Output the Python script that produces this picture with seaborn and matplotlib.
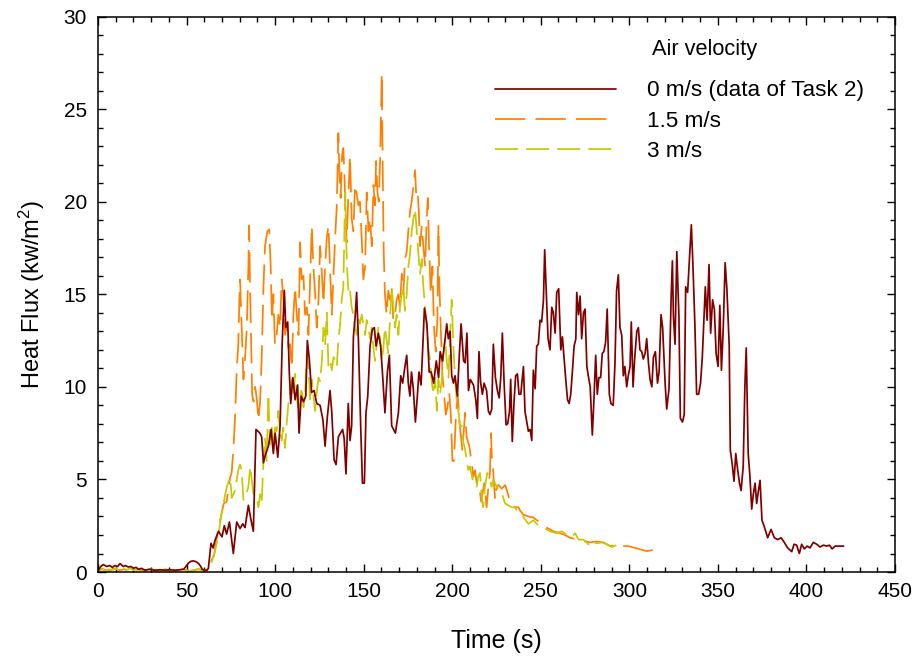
import matplotlib
matplotlib.use("Agg")
import matplotlib.pyplot as plt
import numpy as np
import pandas as pd
import seaborn as sns
from matplotlib.ticker import MultipleLocator

# ---------------- data ----------------
t_0 = [0, 1.5, 3, 4.9, 6.8, 8, 9.6, 11, 12.4, 14.3, 15.5, 17.1, 18.5, 20, 21.5, 22.8, 24.5, 26.5, 29, 32,
       35, 38, 41, 43.7, 46, 48.4, 50, 51.2, 52.5, 54, 55.5, 56.9, 58, 58.8, 60, 61.6, 62.3, 63.8, 65, 66,
       68, 70, 71.3, 72.6, 74.2, 76.4, 78.3, 80.2, 81.7, 83, 84.9, 86.4, 87.7, 89.2, 91.4, 92.4, 93.4, 94.7, 96.2, 97.7,
       99, 100, 101.5, 102.8, 104, 105.2, 106, 107.1, 108, 108.8, 110, 111.3, 112.7, 113.5, 114.7, 116, 117.3, 118.2, 119.3, 120.6,
       122, 123.5, 125.4, 127, 128.2, 129.5, 131, 132, 133.3, 134.4, 135.7, 138.1, 139, 140, 141.3, 142.3, 143.2, 144.2, 145.2, 146,
       147, 148.3, 149.3, 150.4, 151.3, 152.3, 153.6, 154.9, 156, 157, 158.3, 159.6, 160.7, 162, 163.4, 164.5, 165.8, 167.9, 169.6, 170.9,
       172, 173.3, 174.3, 175.2, 176.1, 177, 178, 179.2, 180.3, 181.2, 182.4, 183.3, 184.3, 185.7, 187, 188.1, 189.5, 191, 192.3, 193.2,
       194.5, 196, 196.9, 197.8, 198.8, 199.7, 200.7, 201.6, 202.9, 204.1, 205, 206.4, 207.3, 208.3, 209.2, 210.2, 212, 213.3, 214.2, 215.1,
       216, 217, 218, 219.4, 220.4, 221.3, 222.3, 223.2, 224.4, 225.5, 226.5, 227.4, 228.3, 229.3, 230.4, 231.3, 232.3, 233, 233.9, 234.9,
       235.8, 236.8, 237.7, 238.7, 239.6, 240.2, 241.1, 242.1, 243, 244, 244.9, 245.8, 246.8, 247.7, 248.6, 249.6, 250.5, 251.5, 252.2, 253.2,
       254.1, 255.2, 256.2, 257.1, 258.1, 259, 260.1, 261.3, 262.2, 263.2, 264.1, 265.1, 266, 266.9, 267.9, 268.8, 269.8, 270.3, 271.3, 272.2,
       273.1, 274.1, 275, 276, 277, 277.9, 279.1, 280, 281, 281.9, 282.8, 283.8, 284.7, 285.6, 286.6, 287.5, 288.7, 289.6, 290.9, 291.9,
       292.8, 293.8, 294.7, 295.7, 296.6, 297.5, 298.5, 299.4, 300.4, 301.1, 302.1, 303, 304.2, 305.1, 306, 307, 307.9, 308.9, 309.8, 310.8,
       311.7, 312.7, 313.6, 314.7, 315.9, 316.8, 317.9, 318.8, 320.2, 321.1, 322.4, 323.6, 324.3, 324.9, 325.8, 326.8, 328, 328.8, 330, 331,
       331.8, 332.9, 333.9, 335, 335.9, 337, 338, 339.1, 340.2, 341.2, 342.1, 342.9, 343.9, 345, 345.9, 347, 348, 349, 350.1, 351.1,
       352, 353, 354.1, 355.1, 356.4, 357, 358, 359.1, 360.1, 361.2, 362.2, 363.1, 364.3, 365.2, 366, 367.1, 368, 369.1, 370, 371,
       371.9, 372.9, 373.8, 374.9, 376.2, 378.1, 380, 381.9, 383.8, 385.7, 387.5, 389.4, 391.7, 393, 394.5, 396, 397.3, 398.8, 400.5, 402,
       403.9, 405.8, 407.7, 409.6, 411.5, 413, 414.5, 416.2, 418, 421]
q_0 = [0.05, 0.3, 0.4, 0.3, 0.35, 0.25, 0.35, 0.3, 0.45, 0.3, 0.35, 0.27, 0.3, 0.2, 0.25, 0.15, 0.2, 0.1, 0.15, 0.1,
       0.12, 0.1, 0.12, 0.1, 0.12, 0.15, 0.35, 0.5, 0.58, 0.6, 0.55, 0.45, 0.3, 0.15, 0.1, 0.1, 0.2, 1.55, 1.3, 1.7,
       2.2, 1.9, 2.5, 2.05, 2.7, 1.0, 2.7, 2.35, 2.6, 2.4, 3.6, 2.8, 2.2, 7.7, 7.5, 7.3, 5.9, 6.4, 6.8, 7.7,
       6.4, 7.5, 6.2, 7.9, 12.4, 15.2, 13.2, 13.5, 10.8, 9.1, 10.5, 9.3, 10.1, 7.5, 9.5, 9.2, 9.5, 12.5, 11.5, 9.7,
       9.8, 9.1, 9.0, 8.2, 6.8, 8.4, 9.8, 8.6, 6.05, 5.8, 7.3, 7.7, 7.2, 5.3, 9.1, 7.1, 7.9, 12.7, 13.8, 15.1,
       12.6, 7.9, 4.8, 4.8, 8.6, 9.5, 12.2, 13.1, 13.2, 12.2, 12.9, 12.2, 10.6, 8.6, 10.8, 11.7, 7.9, 7.5, 8.6, 10.6,
       10.2, 11.1, 11.7, 10.2, 9.5, 10.8, 9.9, 8.1, 9.5, 10.8, 10.1, 12.0, 14.25, 13.4, 10.8, 10.8, 10.2, 11.4, 10.5, 11.9,
       11.4, 12.6, 13.4, 12.6, 13.0, 10.6, 10.2, 10.6, 9.5, 11.9, 13.4, 11.4, 11.3, 12.9, 9.8, 10.4, 10.1, 9.3, 8.3, 11.9,
       10.25, 9.6, 10.2, 9.8, 8.7, 8.5, 8.8, 12.3, 10.5, 9.8, 9.4, 10.5, 12.9, 10.2, 7.95, 8.0, 8.65, 10.4, 7.05, 9.2,
       10.6, 10.7, 9.6, 9.6, 10.5, 11.1, 8.65, 8.1, 7.6, 7.7, 7.1, 10.9, 9.9, 12.2, 12.3, 13.6, 13.5, 14.7, 17.4, 14.9,
       12.6, 12.0, 14.3, 14.0, 12.9, 15.1, 15.3, 12.0, 12.7, 11.5, 10.4, 9.3, 9.1, 9.6, 10.9, 12.2, 12.6, 15.1, 13.9, 14.9,
       12.6, 14.0, 14.2, 11.1, 10.5, 10.0, 7.4, 9.3, 11.7, 9.6, 10.5, 10.5, 11.8, 11.9, 12.4, 14.2, 9.6, 9.1, 9.0, 11.3,
       15.2, 16.05, 13.2, 12.8, 10.6, 11.1, 10.0, 10.6, 11.1, 13.5, 10.0, 11.5, 13.0, 13.2, 12.0, 11.9, 11.5, 11.8, 12.6, 11.3,
       10.4, 10.0, 11.6, 11.9, 10.2, 10.8, 13.9, 13.2, 10.2, 8.8, 9.9, 14.8, 16.8, 13.8, 12.3, 17.3, 13.8, 8.3, 8.1, 8.5,
       15.4, 15.1, 16.8, 18.75, 16.6, 13.4, 9.6, 9.6, 10.2, 11.6, 13.6, 15.4, 13.6, 16.6, 12.9, 14.7, 14.2, 11.8, 11.1, 14.4,
       10.9, 13.1, 16.7, 15.25, 12.2, 6.6, 5.9, 4.9, 6.4, 5.5, 4.8, 4.4, 5.7, 9.9, 12.1, 6.4, 5.3, 3.4, 4.2, 4.8,
       3.7, 4.4, 4.95, 2.8, 2.45, 1.85, 2.3, 1.85, 1.75, 1.85, 1.6, 1.3, 1.1, 1.5, 1.45, 1.0, 1.5, 1.25, 1.4, 1.3,
       1.6, 1.5, 1.35, 1.45, 1.4, 1.45, 1.25, 1.4, 1.4, 1.4]

t_15 = [0, 3, 6, 9, 12, 15, 18, 21, 24, 27, 30, 33, 36, 39, 42, 45, 48, 51, 54, 57,
        60, 62, 64, 65.5, 67, 69, 71, 72.6, 74.6, 75.5, 76.4, 77.3, 78.3, 79.2, 79.8, 80.2, 81.1, 82.1, 83, 84,
        84.9, 85.3, 85.9, 86.5, 87, 87.8, 88.7, 89.6, 90.6, 91.5, 92.4, 93.4, 94.3, 95.6, 96.7, 97.5, 98.2, 99, 99.9, 100.9,
        101.8, 102.8, 103.7, 104.6, 105.6, 106.5, 107.5, 108.4, 109.4, 110.3, 111.3, 112.2, 113.2, 114.1, 115, 116, 116.9, 117.9, 118.8, 119.8,
        120.7, 121.6, 122.6, 123.5, 124.5, 125.4, 126.4, 127.3, 128.2, 129.2, 130.1, 131.1, 132, 133, 133.9, 134.8, 135.7, 136.3, 137, 137.8,
        138.5, 139.1, 139.8, 140.4, 141.3, 142.3, 143.2, 144.2, 145.1, 146.1, 147, 147.9, 148.9, 149.8, 150.8, 151.7, 152.7, 153.6, 154.6, 155.5,
        156.4, 157, 157.8, 158.5, 159.3, 159.8, 160.2, 160.5, 160.9, 161.3, 162, 162.9, 163.9, 164.8, 165.8, 166.7, 167.7, 168.6, 169.6, 170.5,
        171.5, 172.4, 173.3, 174.3, 175.2, 176.2, 177.1, 178.1, 179, 179.6, 180.3, 181.1, 181.8, 182.8, 183.7, 184.7, 185.6, 186.2, 186.9, 187.9,
        188.8, 189.7, 190.7, 191.6, 192.2, 192.8, 193.5, 194.5, 195.4, 196.4, 197.3, 198.3, 199.2, 200.1, 201, 202, 203.1, 204.3, 205.7, 207.3,
        208.1, 209.6, 211, 211.9, 212.9, 213.8, 215.3, 216.3, 217.2, 218.2, 219.4, 220.4, 221.3, 221.9, 222.4, 223.2, 224.2, 225.1, 226.1, 228,
        229.9, 231.2, 232.3, 233.7, 235.6, 237.4, 238.4, 240.2, 243, 245.8, 247.7, 250.6, 253.3, 257.1, 260.8, 263.6, 266.5, 270.2, 275, 277.9,
        281.6, 285.3, 289.1, 292.9, 296, 299.4, 304.2, 307, 309.8, 313, 316]
q_15 = [0.1, 0.15, 0.05, 0.2, 0.1, 0.15, 0.05, 0.15, 0.1, 0.1, 0.15, 0.05, 0.1, 0.15, 0.05, 0.1, 0.15, 0.05, 0.1, 0.15,
        0.1, 0.2, 0.6, 0.9, 1.8, 2.8, 3.7, 3.8, 5.1, 5.4, 6.6, 8.2, 10.9, 12.3, 14.7, 15.8, 13.2, 10.4, 11.5, 13.2,
        16.5, 18.7, 15.0, 12.3, 9.6, 9.2, 10.0, 9.4, 8.2, 9.2, 11.5, 15.4, 17.6, 18.4, 18.5, 16.5, 13.6, 15.0, 12.3, 12.8,
        13.9, 13.2, 15.8, 15.0, 12.8, 13.3, 12.1, 12.3, 11.0, 13.9, 15.4, 13.9, 12.8, 17.8, 15.8, 16.0, 13.9, 14.3, 12.8, 16.0,
        18.7, 16.5, 15.0, 13.2, 14.7, 17.6, 16.1, 14.5, 16.5, 18.1, 18.7, 16.1, 13.9, 16.1, 18.1, 19.75, 23.7, 21.6, 20.2, 22.5,
        22.9, 21.6, 19.3, 17.8, 20.2, 22.5, 19.1, 18.4, 20.9, 20.4, 19.8, 20.0, 18.0, 15.8, 16.5, 20.5, 18.4, 19.1, 17.6, 20.9,
        19.8, 22.2, 20.5, 20.0, 22.3, 25.0, 26.95, 24.1, 20.5, 17.3, 15.0, 13.9, 15.2, 14.7, 15.4, 13.6, 13.9, 14.7, 15.0, 14.3,
        16.1, 15.0, 16.9, 17.3, 18.4, 19.5, 20.0, 20.9, 21.7, 20.5, 20.7, 19.6, 17.6, 18.7, 17.6, 16.5, 19.1, 20.2, 17.6, 15.0,
        16.5, 13.2, 11.9, 13.6, 18.7, 15.4, 13.2, 10.6, 9.6, 8.5, 8.9, 9.7, 8.5, 6.0, 6.0, 8.3, 9.6, 7.9, 6.6, 8.6,
        7.3, 6.8, 5.9, 5.15, 5.5, 4.8, 4.6, 3.8, 4.3, 4.8, 3.5, 4.6, 5.35, 7.5, 6.1, 5.35, 3.9, 4.6, 4.7, 4.5,
        4.7, 4.3, 3.9, 3.6, 3.5, 3.5, 3.3, 3.1, 3.0, 2.95, 2.8, 2.6, 2.4, 2.2, 2.1, 2.0, 1.85, 1.77, 1.67, 1.6,
        1.65, 1.6, 1.4, 1.45, 1.4, 1.4, 1.27, 1.2, 1.13, 1.18, 1.13]

t_3 = [0, 2, 4, 6, 8, 10, 12, 14, 16, 18, 20, 23, 26, 29, 32, 35, 38, 41, 44, 47,
       50, 53, 56, 59, 62, 64, 66, 68, 69.5, 70.8, 72.7, 74.6, 75.5, 77.3, 79.2, 80.2, 81.1, 82.1, 83.6, 84.9,
       85.9, 86.8, 87.8, 89.6, 90.6, 91.5, 92.4, 93.4, 94.3, 95.2, 96.2, 97.1, 98.1, 99, 99.9, 100.9, 101.8, 102.8, 103.7, 104.6,
       105.6, 106.5, 107.5, 108.4, 109.4, 110.3, 111.3, 112.2, 113.2, 114.1, 115, 116, 116.9, 117.9, 118.8, 119.8, 120.7, 121.6, 122.6, 123.5,
       124.5, 125.4, 126.4, 127.3, 128.2, 129.2, 130.1, 131.1, 132, 133, 133.9, 134.8, 135.7, 136.7, 137.6, 138.5, 139.1, 139.6, 140.2, 140.8,
       141.5, 142.3, 143.2, 144.2, 145.1, 146.1, 147, 147.9, 148.9, 149.8, 150.8, 151.7, 152.7, 153.6, 154.6, 155.5, 156.4, 157.4, 158.3, 159.3,
       160.2, 161.1, 162, 163, 163.9, 164.8, 165.8, 166.7, 167.7, 168.6, 169.6, 170.5, 171.5, 172.4, 173.3, 174.3, 175.2, 176.2, 177.1, 178.1,
       179, 180, 180.9, 181.8, 182.8, 183.7, 184.7, 185.6, 186.5, 187.5, 188.4, 189.4, 190.3, 191.3, 192.2, 193.1, 194.1, 195, 196, 196.9,
       197.9, 198.8, 199.7, 200.7, 201.6, 202.6, 203.5, 204.4, 205.4, 206.3, 207.3, 208.2, 209.1, 210, 211.9, 213.8, 214.7, 215.7, 216.6, 217.5,
       218.5, 219.8, 220.9, 222.2, 223.2, 224.2, 226.1, 228, 229.9, 231.7, 233.6, 235.4, 237.3, 239.2, 241.1, 243, 245.8, 247.7, 249.6, 251.5,
       255.2, 259, 261.8, 264.7, 267.5, 269.4, 271.3, 274.1, 277.9, 279.8, 281.6, 284.5, 287.3, 290.1, 292.9, 294.7]
q_3 = [0.1, 0.2, 0.05, 0.15, 0.1, 0.2, 0.05, 0.15, 0.1, 0.2, 0.1, 0.15, 0.05, 0.15, 0.1, 0.05, 0.15, 0.1, 0.05, 0.15,
       0.1, 0.05, 0.15, 0.1, 0.15, 0.5, 1.1, 2.0, 3.0, 3.7, 4.6, 5.1, 4.0, 4.4, 5.5, 5.8, 5.5, 3.9, 4.2, 4.6,
       5.7, 5.0, 4.2, 4.0, 3.5, 4.2, 3.7, 6.0, 7.2, 6.0, 9.6, 6.9, 7.8, 6.6, 7.8, 7.6, 8.7, 7.5, 7.1, 7.8,
       6.7, 8.0, 9.1, 9.6, 10.4, 9.6, 10.7, 9.6, 8.5, 9.1, 10.0, 8.9, 9.6, 11.8, 11.1, 9.2, 10.4, 9.6, 8.7, 9.7,
       10.5, 10.3, 11.4, 13.2, 12.3, 14.0, 11.1, 11.4, 10.9, 11.6, 11.4, 11.1, 12.5, 13.4, 14.7, 15.4, 18.4, 20.5, 17.6, 16.1,
       15.0, 15.2, 14.3, 13.9, 13.2, 12.8, 13.7, 13.4, 13.9, 13.4, 12.8, 13.6, 13.2, 12.6, 13.2, 12.1, 11.4, 12.3, 13.2, 12.6,
       11.4, 12.1, 13.2, 12.5, 11.8, 13.6, 15.4, 14.3, 13.2, 13.9, 12.8, 14.3, 15.0, 15.4, 14.1, 15.0, 16.5, 17.2, 18.4, 19.1,
       19.6, 18.4, 17.2, 16.1, 16.9, 15.4, 14.3, 13.2, 12.1, 11.4, 10.3, 9.6, 10.5, 8.7, 10.4, 9.6, 10.4, 11.8, 12.6, 11.4,
       10.5, 12.8, 14.7, 12.1, 10.4, 9.2, 8.7, 7.8, 7.9, 7.0, 6.6, 6.0, 5.5, 5.7, 4.8, 4.6, 5.15, 5.35, 4.1, 3.5,
       4.6, 5.35, 5.15, 4.6, 5.0, 4.8, 4.4, 4.25, 3.7, 3.6, 3.5, 3.5, 3.2, 3.1, 2.85, 2.6, 2.8, 2.6, 2.5, 2.4,
       2.2, 2.1, 2.2, 2.0, 1.9, 2.1, 1.75, 1.75, 1.4, 1.6, 1.55, 1.6, 1.5, 1.35, 1.45, 1.6]

labels = ["0 m/s (data of Task 2)", "1.5 m/s", "3 m/s"]
colors = ["#800000", "#FF8000", "#C8C800"]
x_ticks = [0, 50, 100, 150, 200, 250, 300, 350, 400, 450]
y_ticks = [0, 5, 10, 15, 20, 25, 30]

# ---------------- style ----------------
sns.set_theme(style="ticks")
plt.rcParams["font.family"] = ["Liberation Sans", "DejaVu Sans"]
plt.rcParams["mathtext.fontset"] = "custom"
plt.rcParams["mathtext.rm"] = "Liberation Sans"
plt.rcParams["mathtext.it"] = "Liberation Sans"
plt.rcParams["text.color"] = "black"
plt.rcParams["axes.labelcolor"] = "black"
plt.rcParams["xtick.color"] = "black"
plt.rcParams["ytick.color"] = "black"
plt.rcParams["xtick.labelcolor"] = "black"
plt.rcParams["ytick.labelcolor"] = "black"

fig = plt.figure(figsize=(9.17, 6.6), dpi=100)
ax = fig.add_axes([0.1069, 0.1333, 0.8691, 0.8417])

df0 = pd.DataFrame({"t": t_0, "q": q_0})
df15 = pd.DataFrame({"t": t_15, "q": q_15})
df3 = pd.DataFrame({"t": t_3, "q": q_3})

lw = 1.25
sns.lineplot(data=df15, x="t", y="q", ax=ax, color=colors[1], linewidth=lw,
             estimator=None, sort=False, label=labels[1])
ax.lines[-1].set_dashes((17.5, 5.8))
sns.lineplot(data=df3, x="t", y="q", ax=ax, color=colors[2], linewidth=lw,
             estimator=None, sort=False, label=labels[2])
ax.lines[-1].set_dashes((13.3, 4.6))
sns.lineplot(data=df0, x="t", y="q", ax=ax, color=colors[0], linewidth=lw,
             estimator=None, sort=False, label=labels[0])

ax.set_xlim(0, 450)
ax.set_ylim(0, 30)
ax.set_xticks(x_ticks)
ax.set_yticks(y_ticks)
ax.xaxis.set_minor_locator(MultipleLocator(10))
ax.yaxis.set_minor_locator(MultipleLocator(1))
ax.tick_params(which="both", direction="in", top=True, right=True, colors="black",
               width=1.0)
ax.tick_params(which="major", length=6, labelsize=15, labelcolor="black")
ax.tick_params(which="minor", length=3.5)
ax.tick_params(axis="x", which="major", pad=7)
ax.tick_params(axis="y", which="major", pad=8)
for s in ax.spines.values():
    s.set_linewidth(1.1)
    s.set_color("black")

ax.set_xlabel("Time (s)", fontsize=18, labelpad=20, color="black")
ax.set_ylabel("Heat Flux (kw/m$^{2}$)", fontsize=17, labelpad=12, color="black")

handles, labs = ax.get_legend_handles_labels()
order = [labs.index(l) for l in labels]
leg = ax.legend([handles[i] for i in order], [labs[i] for i in order],
                loc="upper left", bbox_to_anchor=(0.498, 0.885), frameon=False,
                fontsize=16.2, handlelength=5.4, handletextpad=1.35, labelspacing=0.42,
                borderaxespad=0, borderpad=0)
for txt in leg.get_texts():
    txt.set_color("black")
ax.text(0.695, 0.94, "Air velocity", transform=ax.transAxes, fontsize=15.7,
        va="center", ha="left", color="black")

fig.savefig("out.png", dpi=100)
